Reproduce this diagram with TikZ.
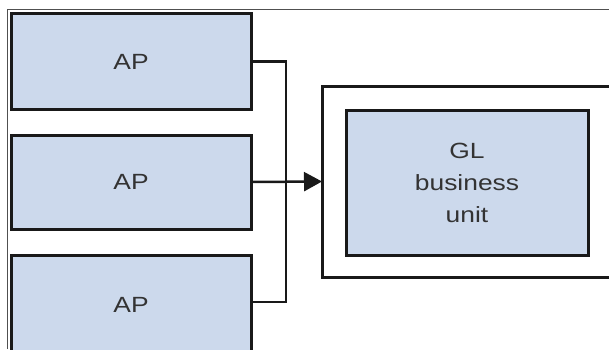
\documentclass[tikz,border=0pt]{standalone}
\usepackage{fontspec}
\setmainfont{Liberation Sans}
\newfontfamily\widefont[FakeStretch=1.2]{Liberation Sans}
\usetikzlibrary{arrows.meta}
\definecolor{boxblue}{RGB}{204,217,236}
\definecolor{textgray}{RGB}{51,51,51}
\definecolor{framegray}{RGB}{80,80,80}
\tikzset{
  unitbox/.style={draw=black!90,line width=3pt,fill=boxblue,outer sep=0pt,
    minimum width=240pt,minimum height=95pt,text=textgray,align=center,
    font=\widefont\fontsize{22}{32}\selectfont},
  holder/.style={draw=black!90,line width=3pt,fill=white,outer sep=0pt,
    minimum width=340pt,minimum height=191pt},
  link/.style={draw=black!90,line width=2.5pt}
}
\begin{document}
\begin{tikzpicture}[x=1pt,y=1pt]
\useasboundingbox (0,0) rectangle (609,349);
% screenshot frame
\draw[framegray,line width=1pt] (7,0) -- (7,339) -- (609,339);
% source units
\node[unitbox] (ap1) at (131,287.5) {AP};
\node[unitbox,minimum height=94pt] (ap2) at (131,167) {AP};
\node[unitbox,minimum height=99pt] (ap3) at (131,44.5) {AP};
% target
\node[holder] (outer) at (492,167.5) {};
\node[unitbox,minimum width=242pt,minimum height=145pt] (gl) at (467,166.5) {GL\\business\\unit};
\coordinate (bus) at (286,167);
\draw[link] (ap1.east) -| (bus) |- ([yshift=2.5pt]ap3.east);
\draw[link,-{Triangle[length=18pt,width=19pt]}] (ap2.east) -- (outer.west);
\end{tikzpicture}
\end{document}
